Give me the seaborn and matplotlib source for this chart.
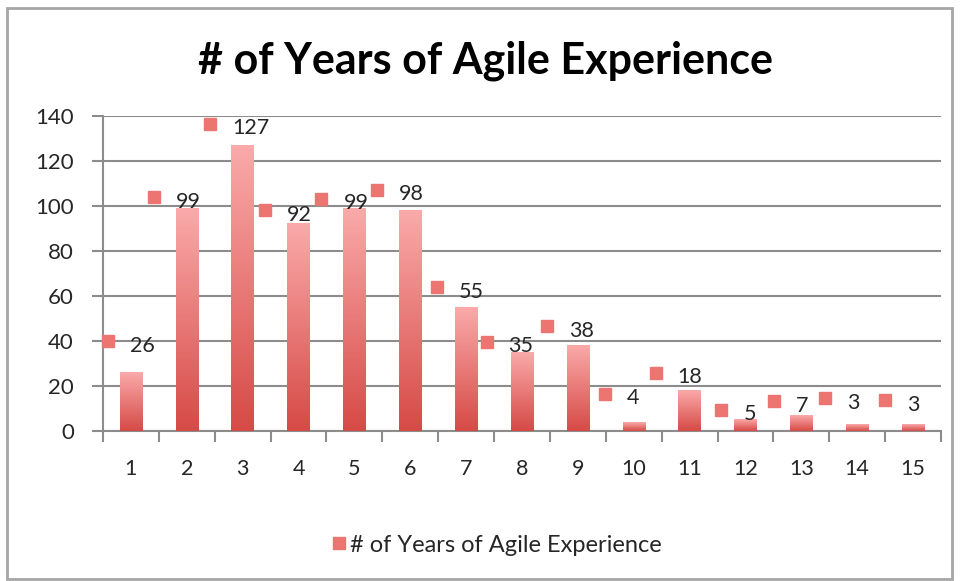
import numpy as np
import pandas as pd
import matplotlib
matplotlib.use("Agg")
import matplotlib.pyplot as plt
import matplotlib.transforms as mtransforms
from matplotlib.lines import Line2D
from matplotlib.patches import Rectangle
import seaborn as sns

# ---- data ----
categories = [str(i) for i in range(1, 16)]
values = [26, 99, 127, 92, 99, 98, 55, 35, 38, 4, 18, 5, 7, 3, 3]
y_ticks = [0, 20, 40, 60, 80, 100, 120, 140]
title = "# of Years of Agile Experience"
series_name = "# of Years of Agile Experience"

# ---- layout of data labels (pixel nudges, as in the reference) ----
label_dx = [-0.5, -11.3, -10.2, -11.7, -11, -11, -7.4, -13.5, -9.2, -7, -12, -2, -5.5, -10, -5.7]
label_dy = [28.5, 8, 18.5, 10.7, 6.5, 17.5, 17, 7.5, 16.3, 25, 15, 7, 11, 23, 21]

sns.set_theme(style="white")
plt.rcParams["font.family"] = ["Lato", "DejaVu Sans"]

W, H = 960, 581
fig = plt.figure(figsize=(W / 100, H / 100), dpi=100)
fig.patch.set_facecolor("white")

x0, x1, ytop, ybot = 103, 941, 116, 431
ax = fig.add_axes([x0 / W, 1 - ybot / H, (x1 - x0) / W, (ybot - ytop) / H])

df = pd.DataFrame({"year": categories, "count": values})
sns.barplot(data=df, x="year", y="count", order=categories, color="#E8706C",
            width=0.4, saturation=1, ax=ax, zorder=2)

# gradient fill for each bar
top_c = np.array([250, 170, 170]) / 255
bot_c = np.array([214, 74, 70]) / 255
grad = np.linspace(0, 1, 256)[:, None]
img = (bot_c[None, :] * (1 - grad) + top_c[None, :] * grad)[:, None, :]
for p in list(ax.patches):
    bx, bw, bh = p.get_x(), p.get_width(), p.get_height()
    p.set_edgecolor("none")
    ax.imshow(img, extent=[bx, bx + bw, 0, bh], origin="lower", aspect="auto",
              zorder=3, interpolation="bilinear")

ax.set_xlim(-0.5, len(categories) - 0.5)
ax.set_ylim(0, 140)

# axes styling
grid_c = "#8C8C8C"
ax.set_yticks(y_ticks)
ax.set_yticklabels([str(t) for t in y_ticks])
ax.yaxis.grid(True, color=grid_c, linewidth=1.5, zorder=0)
ax.set_axisbelow(True)
ax.set_xticks(np.arange(-0.5, len(categories), 1))
ax.set_xticklabels([])
ax.set_xticks(np.arange(len(categories)), minor=True)
ax.set_xticklabels(categories, minor=True)
ax.tick_params(axis="x", which="major", length=8, width=1.5, color=grid_c, direction="out", bottom=True)
ax.tick_params(axis="x", which="minor", length=0, pad=20, labelsize=15.5, labelcolor="#262626")
ax.tick_params(axis="y", length=8, width=1.5, color=grid_c, direction="out", left=True,
               pad=13, labelsize=16, labelcolor="#262626")
for s in ["top", "right"]:
    ax.spines[s].set_visible(False)
for s in ["left", "bottom"]:
    ax.spines[s].set_color(grid_c)
    ax.spines[s].set_linewidth(1.5)
ax.set_xlabel("")
ax.set_ylabel("")

# data labels with legend keys
mk_color = "#EC7471"
for i, v in enumerate(values):
    tr = mtransforms.offset_copy(ax.transData, fig=fig, x=label_dx[i],
                                 y=label_dy[i] - 7.5, units="dots")
    ax.text(i, v, str(v), transform=tr, ha="left", va="baseline",
            fontsize=15.5, color="#262626", zorder=5, clip_on=False)
    trm = mtransforms.offset_copy(ax.transData, fig=fig, x=label_dx[i] - 22,
                                  y=label_dy[i] + 3, units="dots")
    ax.plot([i], [v], marker="s", markersize=9, color=mk_color, linestyle="",
            transform=trm, zorder=5, clip_on=False)

# title
fig.text(486 / W, 1 - 61 / H, title, ha="center", va="center",
         fontsize=31, fontweight="bold", color="black")

# legend
handle = Line2D([], [], marker="s", linestyle="", color=mk_color, markersize=9)
fig.legend(handles=[handle], labels=[series_name], loc="center",
           bbox_to_anchor=(495 / W, 1 - 545 / H), frameon=False,
           handletextpad=0.05, handlelength=0.9, fontsize=17,
           labelcolor="#262626")

# chart border
fig.add_artist(Rectangle((7 / W, 1 - 579 / H), (952 - 7) / W, (579 - 8) / H,
                         transform=fig.transFigure, fill=False,
                         edgecolor="#A6A6A6", linewidth=2))

fig.savefig("out.png", dpi=100)
